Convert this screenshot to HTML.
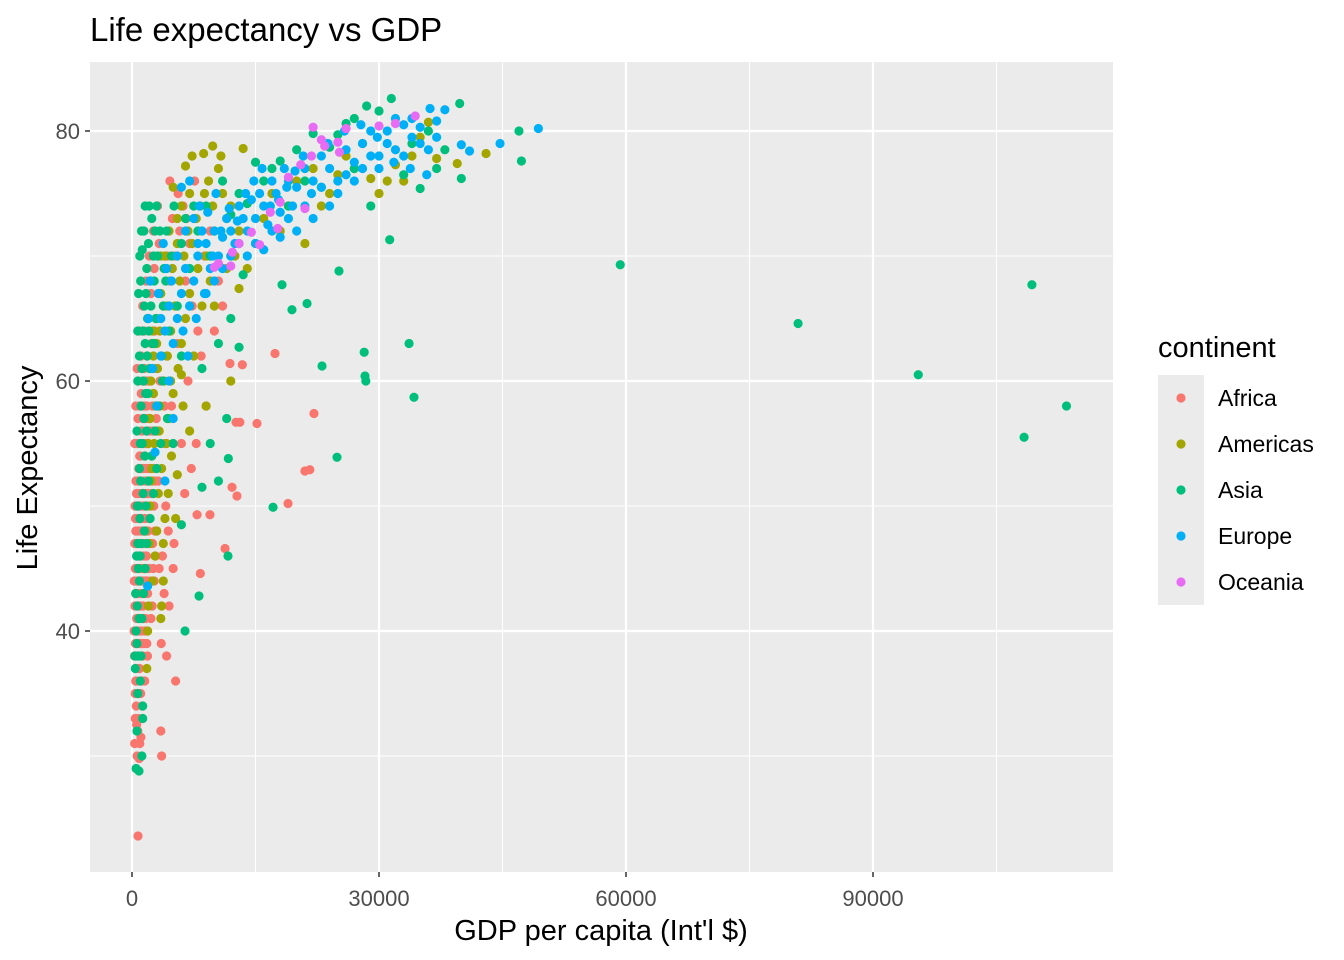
<!DOCTYPE html>
<html><head><meta charset="utf-8"><style>
body{margin:0;background:#fff;}
svg{display:block;font-family:"Liberation Sans",Arial,sans-serif;}
</style></head><body>
<svg id="chart" width="1344" height="960">
<rect x="0" y="0" width="1344" height="960" fill="#fff"/>
<text x="90" y="41" font-size="33" fill="#000">Life expectancy vs GDP</text>
<rect x="90" y="62" width="1023" height="810" fill="#EBEBEB"/>
<g id="grid"></g>
<g id="points"></g>
<g id="ticks"></g>
<text x="601" y="940" font-size="29" text-anchor="middle" fill="#000">GDP per capita (Int'l $)</text>
<text transform="translate(37,468) rotate(-90)" font-size="29" text-anchor="middle" fill="#000">Life Expectancy</text>
<g>
<text x="1158" y="357" font-size="29" fill="#000">continent</text>
<rect x="1158" y="375" width="46" height="230" fill="#EBEBEB"/>
<g id="legend"></g>
</g>
</svg>
<script>
const continents=["Africa","Americas","Asia","Europe","Oceania"];
const colors=["#F8766D","#A3A500","#00BF7D","#00B0F6","#E76BF3"];
const xTicks=[0,30000,60000,90000];
const yTicks=[40,60,80];
const xMinor=[15000,45000,75000,105000];
const yMinor=[30,50,70];
const africa=[[300,38],[350,42],[400,45],[450,36],[500,40],[550,43],[600,47],[650,39],[700,32],[730,23.6],[750,44],[800,41],[850,37],[900,46],[950,49],[1000,43],[1050,35],[1100,48],[1150,40],[1200,45],[1250,51],[1300,38],[1350,42],[1400,47],[1450,53],[1500,44],[1550,36],[1600,49],[1650,41],[1700,55],[1750,46],[1800,39],[1850,52],[1900,43],[1950,48],[2000,57],[2100,45],[2200,50],[2300,41],[2400,54],[2500,47],[2600,59],[2700,44],[2800,52],[2900,61],[3000,48],[320,31],[380,35],[420,49],[480,52],[520,34],[580,55],[620,30],[680,50],[720,57],[780,33],[820,53],[880,29.8],[920,58],[980,39],[1020,54],[1080,31.5],[1120,59],[1180,36],[1220,56],[1280,33],[1320,60],[1380,45],[1420,50],[1480,58],[1520,61],[1580,40],[1620,43],[1680,47],[1720,50],[1780,58],[1820,62],[1880,38],[1920,55],[1980,45],[2050,60],[2150,53],[2250,47],[2350,63],[2450,42],[2550,56],[2650,50],[2750,64],[2850,46],[2950,57],[3200,52],[3400,60],[3600,30],[3700,46],[3800,66],[4000,55],[4200,62],[4400,48],[4600,68],[4800,58],[5000,45],[5200,70],[5500,63],[5800,72],[6000,55],[6200,74],[6500,68],[6800,60],[7000,71],[7300,66],[7600,76],[8000,64],[3500,32],[4200,38],[5300,36],[4500,42],[3900,43],[5100,47],[6400,51],[7200,53],[7800,55],[8300,44.6],[8400,62],[9470,49.3],[7900,49.3],[11300,46.6],[12150,51.5],[12750,50.8],[11900,61.4],[13400,61.3],[12630,56.7],[13100,56.7],[15180,56.6],[17370,62.2],[18950,50.2],[21000,52.8],[21600,52.9],[22100,57.4],[9000,58],[10000,64],[11000,66],[12000,70],[10500,68],[9500,72],[8800,70],[6600,73],[5600,75],[4900,73],[4300,70],[3300,71],[2700,69],[2300,67],[1900,65],[1500,64],[1100,62],[800,60],[3100,74],[4600,76],[2600,72],
[250,40],[270,44],[330,47],[360,50],[390,33],[410,39],[440,43],[460,48],[490,37],[510,45],[540,51],[560,41],[590,36],[610,44],[630,49],[660,38],[690,46],[710,42],[740,52],[760,35],[790,48],[810,45],[840,40],[860,51],[890,43],[910,37],[940,54],[960,47],[990,42],[1010,50],[1040,45],[1060,39],[1090,53],[1110,44],[1140,49],[1160,56],[1190,42],[1210,47],[1240,39],[1260,53],[1290,48],[1310,44],[1340,57],[1360,50],[1390,41],[1410,55],[1440,46],[1460,39],[1490,52],[1510,48],[1560,54],[1590,45],[1640,57],[1660,51],[1690,44],[1740,60],[1760,53],[1790,48],[1840,56],[1870,44],[1940,51],[1990,53],[2080,49],[2180,56],[2280,44],[2380,51],[2480,58],[2580,45],[2680,53],[2780,48],[330,55],[460,58],[620,61],[900,64],[1300,66],[1700,68],[2100,70],[2500,52],[3050,56],[3300,45],[3550,39],[3950,58],[4100,50],[1250,34],[950,31],[560,32.5]];
const americas=[[1800,37],[1900,40],[2000,42],[1500,45],[1600,48],[2200,50],[2500,44],[2800,46],[3000,48],[3500,41],[3800,44],[4000,49],[2400,53],[2700,55],[3200,51],[3600,53],[4200,55],[4500,57],[4800,54],[5000,59],[3300,56],[2900,58],[2300,60],[2600,62],[3100,61],[3400,64],[3900,60],[4300,62],[4700,64],[5200,66],[5600,61],[6000,63],[6500,65],[7000,67],[7500,62],[8000,69],[8500,66],[9000,70],[9500,68],[10000,72],[5800,68],[6300,70],[6800,72],[7300,71],[7800,73],[8300,74],[8800,75],[9300,76],[9800,74],[10500,77],[11000,75],[11500,73],[12000,74],[12500,70],[13000,72],[13500,78.6],[8700,78.2],[9800,78.8],[10800,78],[6500,77.2],[7300,78],[5000,75.5],[5500,73],[4500,72],[4000,70],[3500,67],[3000,65],[2500,64],[14000,69],[15000,71],[16000,73],[17000,75],[18000,72],[19000,74],[20000,76],[21000,71],[22000,77],[23000,74],[24000,75],[25000,76.5],[26000,78],[27000,77],[28000,79],[30000,75],[31000,76],[32000,77.3],[34000,78],[35000,79.5],[36000,80.7],[37000,77.8],[39500,77.4],[43000,78.2],[33000,76],[29000,76.2],[13000,67.4],[11500,69],[10000,66],[12000,60],[9000,58],[7000,56],[6000,60.5],[5500,52.5],[4400,51],[3800,47],[3600,42],[5300,49],[6200,58],
[2000,55],[2200,57],[2600,59],[3000,63],[3500,70],[4200,66],[4900,69],[5500,71],[6000,74],[7000,75],[4700,60],[3400,58],[2100,47],[2300,52]];
const asia=[[500,29],[850,28.8],[600,32],[700,35],[800,38],[400,37],[500,40],[650,42],[900,44],[1000,46],[1100,38],[1200,41],[1300,34],[1400,43],[1500,48],[1600,45],[1700,50],[1800,47],[2000,52],[2200,49],[2400,54],[2600,51],[2800,56],[3000,53],[3200,58],[3500,55],[700,47],[800,50],[900,53],[1000,55],[1100,58],[1200,61],[1300,64],[1400,60],[1500,66],[1600,63],[1700,67],[1800,69],[1900,65],[2000,71],[2200,68],[2400,73],[2600,70],[2800,72],[3000,74],[3300,67],[3600,62],[3900,69],[4200,72],[4500,64],[4800,70],[5100,74],[5500,66],[6000,71],[6500,73],[7000,69],[7500,74],[8000,72],[600,56],[700,60],[900,62],[1050,68],[1250,70.5],[1450,72],[2100,74],[2700,63],[3700,60],[4300,57],[5000,55],[6000,48.5],[6440,40],[8140,42.8],[11660,46],[8500,51.5],[9500,55],[10500,52],[11500,57],[11700,53.8],[12000,65],[13000,62.7],[13500,68.5],[17130,49.9],[18220,67.7],[19430,65.7],[21260,66.2],[23080,61.2],[24900,53.9],[25140,68.8],[28200,62.3],[28300,60.4],[28400,60],[31300,71.3],[33650,63],[34250,58.7],[59300,69.3],[80900,64.6],[95500,60.5],[108350,55.5],[109300,67.7],[113500,58],[47300,77.6],[47000,80],[40000,76.2],[39800,82.2],[36000,80],[34000,79],[31500,82.6],[30000,81.6],[28500,82],[27000,81],[26000,80.6],[25000,79.7],[24000,78.7],[22000,79.8],[20000,78.5],[18000,77.6],[16000,76],[14000,74.2],[12000,73.3],[10000,72],[9000,74],[11000,76],[13000,75],[15000,77.5],[17000,77],[19000,74],[21000,76],[23000,75.5],[27000,77],[29000,74],[33000,76.5],[35000,75.4],[37000,77],[38000,78.5],[6000,62],[7000,66],[8500,61],[9500,70],[10500,63],
[350,38],[450,43],[550,46],[650,50],[750,45],[850,41],[950,49],[1050,52],[1150,47],[1250,55],[1350,51],[1450,57],[1550,54],[1650,59],[1750,56],[1850,62],[1950,59],[2050,64],[2150,61],[2300,66],[2500,63],[2700,68],[2900,65],[3100,70],[3400,72],[3800,66],[4100,68],[700,64],[800,67],[950,70],[1150,72],[1600,74],[1000,36],[1200,30],[1300,33],[600,39]];
const europe=[[1900,43.6],[2800,54.3],[2500,61],[3000,58],[3500,62],[4000,64],[4500,66],[5000,63],[5500,65],[6000,67],[6500,69],[7000,66],[7500,68],[8000,70],[8500,72],[9000,71],[9500,69],[10000,72],[10500,70],[11000,71.5],[11500,73],[12000,72],[12500,71],[13000,74],[13500,73],[14000,72],[14500,74.5],[15000,73],[15500,75],[16000,74],[16500,72.5],[17000,76],[17500,75],[18000,73.5],[18500,77],[19000,76],[19500,74],[20000,75.5],[21000,77],[22000,76],[23000,78],[24000,77],[25000,76],[26000,78.5],[27000,77.5],[28000,79],[29000,80],[30000,78],[31000,79],[32000,78.5],[33000,80.5],[34000,81],[35000,79],[36200,81.8],[37000,79.5],[38000,81.7],[40000,78.9],[41000,78.4],[44700,79],[49357,80.2],[5500,70],[6500,72],[7500,73],[8200,74],[9200,73.5],[10200,75],[4200,69],[3800,71],[3200,67],[2000,65],[2200,68],[6000,75.5],[7000,76],[8000,71],[9000,67],[10000,68],[11000,69],[12000,70],[13000,71],[14000,70],[15000,71],[16000,70.5],[17000,72],[18000,71.5],[19000,73],[20000,72],[21000,74],[22000,73],[23000,75.5],[24000,74],[25000,75],[26000,76.5],[27000,76],[28000,77],[29000,78],[30000,77],[31000,80],[32000,81],[33000,78],[34000,79.5],[35000,80.3],[36000,78.5],[37000,80.8],[4500,60],[5000,57],[3500,65],[4800,68],[6200,64],[7800,65],[8800,67],[9800,70],[10800,72],[11800,73.8],[12800,72.8],[13800,75],[14800,76],[15800,77],[16800,74],[17800,74.5],[18800,75.5],[19800,76.8],[20800,78],[21800,75],[23800,79],[25800,80],[27800,80.5],[29800,79.5],[31800,77.5],[33800,77],[35800,76.5],[4000,52],[6800,62]];
const oceania=[[10000,69.1],[10500,69.4],[12200,70.3],[13000,71],[14500,71.9],[16800,73.5],[18000,74.3],[19000,76.3],[20500,77.3],[21800,78],[23400,78.8],[25000,79.1],[26000,80.2],[30000,80.4],[34400,81.2],[12000,69.2],[15500,70.9],[17700,72.2],[21000,73.8],[25200,78.3],[23000,79.3],[32000,80.6],[22000,80.3]];
const series=[africa,americas,asia,europe,oceania];

const NS="http://www.w3.org/2000/svg";
const px0=90,px1=1113,py0=62,py1=872;
function xs(v){return 132+v*(247/30000);}
function ys(v){return 381-(v-60)*12.5;}
function mk(tag,attrs,parent){const e=document.createElementNS(NS,tag);for(const k in attrs)e.setAttribute(k,attrs[k]);parent.appendChild(e);return e;}
const grid=document.getElementById('grid');
xMinor.forEach(v=>{const l=mk('line',{x1:xs(v),x2:xs(v),y1:py0,y2:py1,stroke:'#fff','stroke-width':1},grid);

});
yMinor.forEach(v=>{const l=mk('line',{x1:px0,x2:px1,y1:ys(v),y2:ys(v),stroke:'#fff','stroke-width':1},grid);

});
xTicks.forEach(v=>{const l=mk('line',{x1:xs(v),x2:xs(v),y1:py0,y2:py1,stroke:'#fff','stroke-width':2.2},grid);

});
yTicks.forEach(v=>{const l=mk('line',{x1:px0,x2:px1,y1:ys(v),y2:ys(v),stroke:'#fff','stroke-width':2.2},grid);

});
const pts=document.getElementById('points');
series.forEach((arr,i)=>{arr.forEach(d=>{const c=mk('circle',{cx:xs(d[0]),cy:ys(d[1]),r:4.6,fill:colors[i]},pts);

});});
const tk=document.getElementById('ticks');
xTicks.forEach(v=>{mk('line',{x1:xs(v),x2:xs(v),y1:py1,y2:py1+5,stroke:'#333','stroke-width':1.5},tk);
const t=mk('text',{x:xs(v),y:906,'font-size':22,'text-anchor':'middle',fill:'#4D4D4D'},tk);t.textContent=v;

});
yTicks.forEach(v=>{mk('line',{x1:px0-5,x2:px0,y1:ys(v),y2:ys(v),stroke:'#333','stroke-width':1.5},tk);
const t=mk('text',{x:80,y:ys(v)+8,'font-size':22,'text-anchor':'end',fill:'#4D4D4D'},tk);t.textContent=v;

});
const lg=document.getElementById('legend');
continents.forEach((c,i)=>{const y=398+i*46;
const g=mk('g',{},lg);


mk('circle',{cx:1181,cy:y,r:4.6,fill:colors[i]},g);
const t=mk('text',{x:1218,y:y+8,'font-size':23,fill:'#000'},g);t.textContent=c;});
</script>
</body></html>
